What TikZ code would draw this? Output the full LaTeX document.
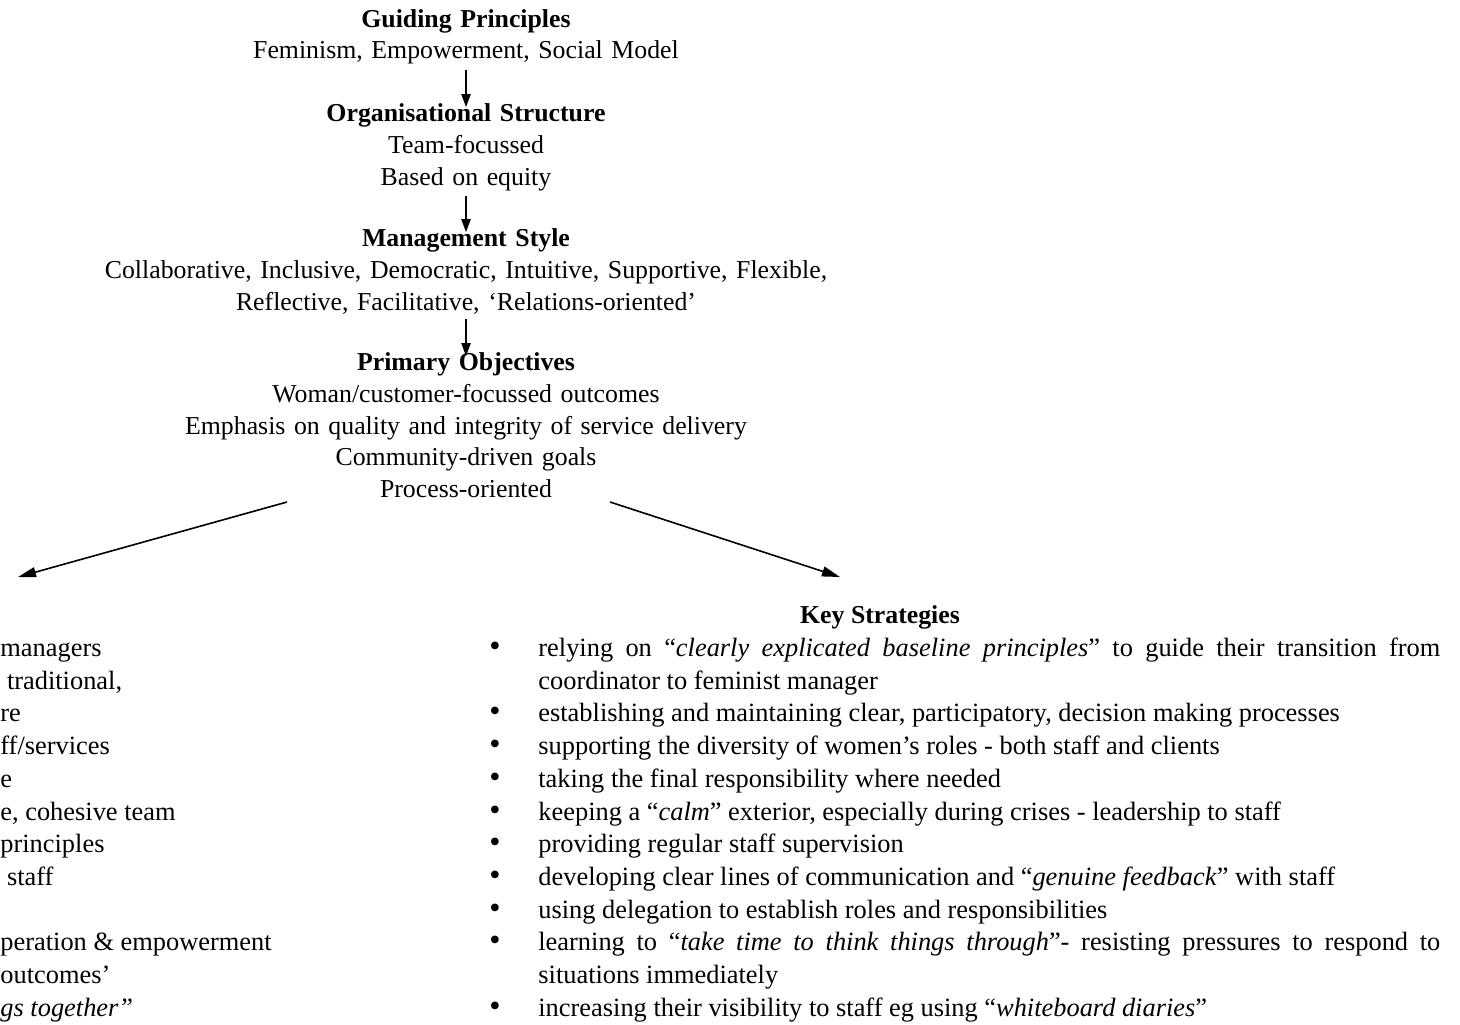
\documentclass[tikz,border=0pt]{standalone}
\usepackage{fontspec}
\setmainfont{Liberation Serif}
\usetikzlibrary{arrows.meta}

\tikzset{
  txt/.style={font=\fontsize{12.9}{15.9}\selectfont, inner sep=0pt},
  blk/.style={txt, text width=700pt, align=center, anchor=base},
  flow/.style={line width=1pt, -{Triangle[length=6.5pt,width=4.5pt]}, shorten <=2.5pt, shorten >=-2pt},
  split/.style={line width=0.8pt, -{Triangle[length=9pt,width=5pt]}},
  dot/.style={font=\fontsize{16}{16}\selectfont, inner sep=0pt, anchor=base},
  item/.style={font=\fontsize{13.2}{16.35}\selectfont, inner sep=0pt, text width=451pt, align=justify, anchor=base west},
  frag/.style={font=\fontsize{13.2}{16.35}\selectfont, inner sep=0pt, anchor=base west},
}

\begin{document}
\begin{tikzpicture}[x=0.5pt,y=-0.5pt]
\useasboundingbox (0,0) rectangle (1460,1024);

% Centre column
\node[blk] (gp) at (466,27) {\textbf{Guiding Principles}\\Feminism, Empowerment, Social Model};
\node[blk] (os) at (466,121.5) {\textbf{Organisational Structure}\\Team-focussed\\Based on equity};
\node[blk] (ms) at (466,246.5) {\textbf{Management Style}\\Collaborative, Inclusive, Democratic, Intuitive, Supportive, Flexible,\\Reflective, Facilitative, ‘Relations-oriented’};
\node[blk] (po) at (466,370.5) {\textbf{Primary Objectives}\\Woman/customer-focussed outcomes\\Emphasis on quality and integrity of service delivery\\Community-driven goals\\Process-oriented};

\draw[flow] (gp) -- (os);
\draw[flow] (os) -- (ms);
\draw[flow] (ms) -- (po);

% Split
\coordinate (poL) at (287,502);
\coordinate (poR) at (610,502);
\coordinate (lefthd) at (18,577);
\coordinate (kshd) at (840,577);
\draw[split] (poL) -- (lefthd);
\draw[split] (poR) -- (kshd);

% Left column (cut at the page edge)
\node[frag] (l1) at (0,656.5) {managers};
\node[frag] (l2) at (0,689.2) {\ traditional,};
\node[frag] (l3) at (0,721.9) {re};
\node[frag] (l4) at (0,754.6) {ff/services};
\node[frag] (l5) at (0,787.3) {e};
\node[frag] (l6) at (0,820) {e, cohesive team};
\node[frag] (l7) at (0,852.7) {principles};
\node[frag] (l8) at (0,885.4) {\ staff};
\node[frag] (l9) at (0,950.8) {peration \& empowerment};
\node[frag] (l10) at (0,983.5) {outcomes’};
\node[frag] (l11) at (0,1016.2) {\textit{gs together”}};

% Key strategies
\node[txt, anchor=base] (ks) at (880,623.5) {\textbf{Key Strategies}};

\node[dot] (b1) at (495,656.5) {•};
\node[item] (s1) at (538,656.5) {relying on “\textit{clearly explicated baseline principles}” to guide their transition from\linebreak coordinator to feminist manager};
\node[dot] (b2) at (495,721.9) {•};
\node[item] (s2) at (538,721.9) {establishing and maintaining clear, participatory, decision making processes};
\node[dot] (b3) at (495,754.6) {•};
\node[item] (s3) at (538,754.6) {supporting the diversity of women’s roles - both staff and clients};
\node[dot] (b4) at (495,787.3) {•};
\node[item] (s4) at (538,787.3) {taking the final responsibility where needed};
\node[dot] (b5) at (495,820) {•};
\node[item] (s5) at (538,820) {keeping a “\textit{calm}” exterior, especially during crises - leadership to staff};
\node[dot] (b6) at (495,852.7) {•};
\node[item] (s6) at (538,852.7) {providing regular staff supervision};
\node[dot] (b7) at (495,885.4) {•};
\node[item] (s7) at (538,885.4) {developing clear lines of communication and “\textit{genuine feedback}” with staff};
\node[dot] (b8) at (495,918.1) {•};
\node[item] (s8) at (538,918.1) {using delegation to establish roles and responsibilities};
\node[dot] (b9) at (495,950.8) {•};
\node[item] (s9) at (538,950.8) {learning to “\textit{take time to think things through}”- resisting pressures to respond to\linebreak situations immediately};
\node[dot] (b10) at (495,1016.2) {•};
\node[item] (s10) at (538,1016.2) {increasing their visibility to staff eg using “\textit{whiteboard diaries}”};

\end{tikzpicture}
\end{document}
